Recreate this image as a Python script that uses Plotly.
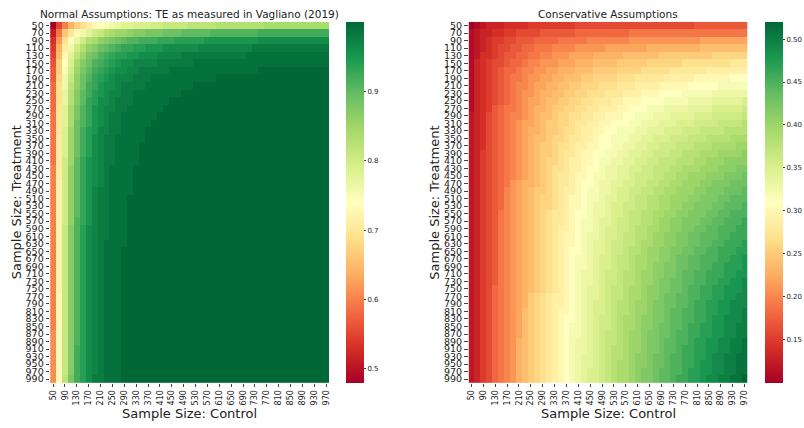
import plotly.graph_objects as go

# Sample sizes on each axis
control_sizes = [50, 70, 90, 110, 130, 150, 170, 190, 210, 230, 250, 270, 290, 310, 330, 350,
                 370, 390, 410, 430, 450, 470, 490, 510, 530, 550, 570, 590, 610, 630, 650, 670,
                 690, 710, 730, 750, 770, 790, 810, 830, 850, 870, 890, 910, 930, 950, 970]
treatment_sizes = [50, 70, 90, 110, 130, 150, 170, 190, 210, 230, 250, 270, 290, 310, 330, 350,
                   370, 390, 410, 430, 450, 470, 490, 510, 530, 550, 570, 590, 610, 630, 650, 670,
                   690, 710, 730, 750, 770, 790, 810, 830, 850, 870, 890, 910, 930, 950, 970, 990]
control_tick_labels = ["50", "90", "130", "170", "210", "250", "290", "330", "370", "410", "450", "490",
                       "530", "570", "610", "650", "690", "730", "770", "810", "850", "890", "930", "970"]

# Statistical power in percent: one row per treatment size, one column per control size
normal_power_pct = [
    [48,55,60,64,67,69,71,73,74,75,76,77,78,78,79,79,79,80,80,81,81,81,81,82,82,82,82,82,83,83,83,83,83,83,83,83,84,84,84,84,84,84,84,84,84,84,84],
    [51,59,66,70,73,76,78,80,81,83,84,85,85,86,87,87,88,88,88,89,89,89,90,90,90,90,90,91,91,91,91,91,91,91,91,92,92,92,92,92,92,92,92,92,92,92,92],
    [53,62,69,74,77,80,83,84,86,87,88,89,90,91,91,92,92,92,93,93,93,94,94,94,94,94,95,95,95,95,95,95,95,95,95,96,96,96,96,96,96,96,96,96,96,96,96],
    [54,64,71,76,80,83,86,87,89,90,91,92,93,93,94,94,95,95,95,96,96,96,96,96,96,97,97,97,97,97,97,97,97,97,98,98,98,98,98,98,98,98,98,98,98,98,98],
    [55,65,73,78,82,85,88,89,91,92,93,94,94,95,95,96,96,96,97,97,97,97,98,98,98,98,98,98,98,98,98,98,98,99,99,99,99,99,99,99,99,99,99,99,99,99,99],
    [56,67,74,79,84,87,89,91,92,93,94,95,96,96,97,97,97,97,98,98,98,98,98,98,99,99,99,99,99,99,99,99,99,99,99,99,99,99,99,99,99,99,99,99,99,99,99],
    [57,67,75,80,85,88,90,92,93,94,95,96,96,97,97,98,98,98,98,98,99,99,99,99,99,99,99,99,99,99,99,99,99,99,99,100,100,100,100,100,100,100,100,100,100,100,100],
    [57,68,76,81,86,89,91,93,94,95,96,97,97,97,98,98,98,99,99,99,99,99,99,99,99,99,99,99,100,100,100,100,100,100,100,100,100,100,100,100,100,100,100,100,100,100,100],
    [58,69,76,82,86,89,92,93,95,96,96,97,98,98,98,98,99,99,99,99,99,99,99,99,100,100,100,100,100,100,100,100,100,100,100,100,100,100,100,100,100,100,100,100,100,100,100],
    [58,69,77,83,87,90,92,94,95,96,97,97,98,98,99,99,99,99,99,99,99,99,100,100,100,100,100,100,100,100,100,100,100,100,100,100,100,100,100,100,100,100,100,100,100,100,100],
    [58,69,77,83,87,90,93,94,96,96,97,98,98,98,99,99,99,99,99,99,100,100,100,100,100,100,100,100,100,100,100,100,100,100,100,100,100,100,100,100,100,100,100,100,100,100,100],
    [58,70,78,84,88,91,93,95,96,97,97,98,98,99,99,99,99,99,99,100,100,100,100,100,100,100,100,100,100,100,100,100,100,100,100,100,100,100,100,100,100,100,100,100,100,100,100],
    [59,70,78,84,88,91,93,95,96,97,98,98,99,99,99,99,99,99,100,100,100,100,100,100,100,100,100,100,100,100,100,100,100,100,100,100,100,100,100,100,100,100,100,100,100,100,100],
    [59,70,78,84,89,91,93,95,96,97,98,98,99,99,99,99,99,100,100,100,100,100,100,100,100,100,100,100,100,100,100,100,100,100,100,100,100,100,100,100,100,100,100,100,100,100,100],
    [59,70,79,85,89,92,94,95,97,97,98,98,99,99,99,99,100,100,100,100,100,100,100,100,100,100,100,100,100,100,100,100,100,100,100,100,100,100,100,100,100,100,100,100,100,100,100],
    [59,71,79,85,89,92,94,96,97,98,98,99,99,99,99,99,100,100,100,100,100,100,100,100,100,100,100,100,100,100,100,100,100,100,100,100,100,100,100,100,100,100,100,100,100,100,100],
    [59,71,79,85,89,92,94,96,97,98,98,99,99,99,99,100,100,100,100,100,100,100,100,100,100,100,100,100,100,100,100,100,100,100,100,100,100,100,100,100,100,100,100,100,100,100,100],
    [59,71,79,85,89,92,94,96,97,98,98,99,99,99,99,100,100,100,100,100,100,100,100,100,100,100,100,100,100,100,100,100,100,100,100,100,100,100,100,100,100,100,100,100,100,100,100],
    [59,71,80,85,90,93,95,96,97,98,98,99,99,99,99,100,100,100,100,100,100,100,100,100,100,100,100,100,100,100,100,100,100,100,100,100,100,100,100,100,100,100,100,100,100,100,100],
    [60,71,80,86,90,93,95,96,97,98,99,99,99,99,100,100,100,100,100,100,100,100,100,100,100,100,100,100,100,100,100,100,100,100,100,100,100,100,100,100,100,100,100,100,100,100,100],
    [60,71,80,86,90,93,95,96,97,98,99,99,99,99,100,100,100,100,100,100,100,100,100,100,100,100,100,100,100,100,100,100,100,100,100,100,100,100,100,100,100,100,100,100,100,100,100],
    [60,72,80,86,90,93,95,96,97,98,99,99,99,99,100,100,100,100,100,100,100,100,100,100,100,100,100,100,100,100,100,100,100,100,100,100,100,100,100,100,100,100,100,100,100,100,100],
    [60,72,80,86,90,93,95,97,98,98,99,99,99,99,100,100,100,100,100,100,100,100,100,100,100,100,100,100,100,100,100,100,100,100,100,100,100,100,100,100,100,100,100,100,100,100,100],
    [60,72,80,86,90,93,95,97,98,98,99,99,99,100,100,100,100,100,100,100,100,100,100,100,100,100,100,100,100,100,100,100,100,100,100,100,100,100,100,100,100,100,100,100,100,100,100],
    [60,72,80,86,90,93,95,97,98,98,99,99,99,100,100,100,100,100,100,100,100,100,100,100,100,100,100,100,100,100,100,100,100,100,100,100,100,100,100,100,100,100,100,100,100,100,100],
    [60,72,80,86,90,93,95,97,98,98,99,99,99,100,100,100,100,100,100,100,100,100,100,100,100,100,100,100,100,100,100,100,100,100,100,100,100,100,100,100,100,100,100,100,100,100,100],
    [60,72,80,86,91,93,95,97,98,98,99,99,99,100,100,100,100,100,100,100,100,100,100,100,100,100,100,100,100,100,100,100,100,100,100,100,100,100,100,100,100,100,100,100,100,100,100],
    [60,72,81,87,91,94,96,97,98,98,99,99,99,100,100,100,100,100,100,100,100,100,100,100,100,100,100,100,100,100,100,100,100,100,100,100,100,100,100,100,100,100,100,100,100,100,100],
    [60,72,81,87,91,94,96,97,98,98,99,99,99,100,100,100,100,100,100,100,100,100,100,100,100,100,100,100,100,100,100,100,100,100,100,100,100,100,100,100,100,100,100,100,100,100,100],
    [60,72,81,87,91,94,96,97,98,99,99,99,99,100,100,100,100,100,100,100,100,100,100,100,100,100,100,100,100,100,100,100,100,100,100,100,100,100,100,100,100,100,100,100,100,100,100],
    [60,72,81,87,91,94,96,97,98,99,99,99,100,100,100,100,100,100,100,100,100,100,100,100,100,100,100,100,100,100,100,100,100,100,100,100,100,100,100,100,100,100,100,100,100,100,100],
    [60,72,81,87,91,94,96,97,98,99,99,99,100,100,100,100,100,100,100,100,100,100,100,100,100,100,100,100,100,100,100,100,100,100,100,100,100,100,100,100,100,100,100,100,100,100,100],
    [60,72,81,87,91,94,96,97,98,99,99,99,100,100,100,100,100,100,100,100,100,100,100,100,100,100,100,100,100,100,100,100,100,100,100,100,100,100,100,100,100,100,100,100,100,100,100],
    [60,72,81,87,91,94,96,97,98,99,99,99,100,100,100,100,100,100,100,100,100,100,100,100,100,100,100,100,100,100,100,100,100,100,100,100,100,100,100,100,100,100,100,100,100,100,100],
    [60,72,81,87,91,94,96,97,98,99,99,99,100,100,100,100,100,100,100,100,100,100,100,100,100,100,100,100,100,100,100,100,100,100,100,100,100,100,100,100,100,100,100,100,100,100,100],
    [60,72,81,87,91,94,96,97,98,99,99,99,100,100,100,100,100,100,100,100,100,100,100,100,100,100,100,100,100,100,100,100,100,100,100,100,100,100,100,100,100,100,100,100,100,100,100],
    [60,73,81,87,91,94,96,97,98,99,99,99,100,100,100,100,100,100,100,100,100,100,100,100,100,100,100,100,100,100,100,100,100,100,100,100,100,100,100,100,100,100,100,100,100,100,100],
    [60,73,81,87,91,94,96,97,98,99,99,99,100,100,100,100,100,100,100,100,100,100,100,100,100,100,100,100,100,100,100,100,100,100,100,100,100,100,100,100,100,100,100,100,100,100,100],
    [60,73,81,87,91,94,96,97,98,99,99,99,100,100,100,100,100,100,100,100,100,100,100,100,100,100,100,100,100,100,100,100,100,100,100,100,100,100,100,100,100,100,100,100,100,100,100],
    [60,73,81,87,91,94,96,97,98,99,99,99,100,100,100,100,100,100,100,100,100,100,100,100,100,100,100,100,100,100,100,100,100,100,100,100,100,100,100,100,100,100,100,100,100,100,100],
    [60,73,81,87,91,94,96,97,98,99,99,99,100,100,100,100,100,100,100,100,100,100,100,100,100,100,100,100,100,100,100,100,100,100,100,100,100,100,100,100,100,100,100,100,100,100,100],
    [61,73,81,87,91,94,96,97,98,99,99,99,100,100,100,100,100,100,100,100,100,100,100,100,100,100,100,100,100,100,100,100,100,100,100,100,100,100,100,100,100,100,100,100,100,100,100],
    [61,73,81,87,91,94,96,97,98,99,99,99,100,100,100,100,100,100,100,100,100,100,100,100,100,100,100,100,100,100,100,100,100,100,100,100,100,100,100,100,100,100,100,100,100,100,100],
    [61,73,81,87,92,94,96,97,98,99,99,99,100,100,100,100,100,100,100,100,100,100,100,100,100,100,100,100,100,100,100,100,100,100,100,100,100,100,100,100,100,100,100,100,100,100,100],
    [61,73,81,87,92,94,96,97,98,99,99,99,100,100,100,100,100,100,100,100,100,100,100,100,100,100,100,100,100,100,100,100,100,100,100,100,100,100,100,100,100,100,100,100,100,100,100],
    [61,73,81,87,92,94,96,97,98,99,99,99,100,100,100,100,100,100,100,100,100,100,100,100,100,100,100,100,100,100,100,100,100,100,100,100,100,100,100,100,100,100,100,100,100,100,100],
    [61,73,81,87,92,94,96,97,98,99,99,99,100,100,100,100,100,100,100,100,100,100,100,100,100,100,100,100,100,100,100,100,100,100,100,100,100,100,100,100,100,100,100,100,100,100,100],
    [61,73,82,88,92,94,96,98,98,99,99,99,100,100,100,100,100,100,100,100,100,100,100,100,100,100,100,100,100,100,100,100,100,100,100,100,100,100,100,100,100,100,100,100,100,100,100],
]

conservative_power_pct = [
    [10,11,12,13,13,13,14,14,14,14,15,15,15,15,15,15,15,15,16,16,16,16,16,16,16,16,16,16,16,16,16,16,16,16,16,16,16,16,17,17,17,17,17,17,17,17,17],
    [11,12,13,13,14,14,15,15,16,16,16,16,17,17,17,17,17,17,18,18,18,18,18,18,18,18,18,19,19,19,19,19,19,19,19,19,19,19,19,19,19,19,19,19,19,19,19],
    [11,12,13,14,15,15,16,16,17,17,17,18,18,18,18,19,19,19,19,19,20,20,20,20,20,20,20,21,21,21,21,21,21,21,21,21,21,21,21,22,22,22,22,22,22,22,22],
    [11,12,13,14,15,16,16,17,17,18,18,19,19,19,20,20,20,20,21,21,21,21,21,22,22,22,22,22,22,22,23,23,23,23,23,23,23,23,23,24,24,24,24,24,24,24,24],
    [11,12,14,14,15,16,17,17,18,18,19,19,20,20,21,21,21,22,22,22,22,23,23,23,23,23,24,24,24,24,24,24,25,25,25,25,25,25,25,25,25,26,26,26,26,26,26],
    [11,13,14,15,16,16,17,18,18,19,20,20,21,21,21,22,22,22,23,23,23,24,24,24,24,25,25,25,25,25,26,26,26,26,26,26,27,27,27,27,27,27,27,27,28,28,28],
    [11,13,14,15,16,17,18,18,19,20,20,21,21,22,22,23,23,23,24,24,24,25,25,25,25,26,26,26,26,27,27,27,27,27,28,28,28,28,28,28,29,29,29,29,29,29,29],
    [11,13,14,15,16,17,18,19,19,20,21,21,22,22,23,23,24,24,24,25,25,26,26,26,26,27,27,27,28,28,28,28,28,29,29,29,29,29,30,30,30,30,30,30,31,31,31],
    [11,13,14,15,16,17,18,19,20,20,21,22,22,23,23,24,24,25,25,26,26,26,27,27,27,28,28,28,29,29,29,29,30,30,30,30,30,31,31,31,31,31,32,32,32,32,32],
    [11,13,14,15,16,17,18,19,20,21,21,22,23,23,24,24,25,25,26,26,27,27,27,28,28,28,29,29,29,30,30,30,31,31,31,31,32,32,32,32,32,33,33,33,33,33,33],
    [11,13,14,15,16,17,18,19,20,21,22,22,23,24,24,25,25,26,26,27,27,28,28,28,29,29,30,30,30,31,31,31,31,32,32,32,32,33,33,33,33,34,34,34,34,34,35],
    [11,13,14,15,17,18,19,19,20,21,22,23,23,24,25,25,26,26,27,27,28,28,29,29,29,30,30,31,31,31,32,32,32,33,33,33,33,34,34,34,34,35,35,35,35,35,36],
    [12,13,14,16,17,18,19,20,20,21,22,23,24,24,25,26,26,27,27,28,28,29,29,30,30,30,31,31,32,32,32,33,33,33,34,34,34,34,35,35,35,36,36,36,36,36,37],
    [12,13,14,16,17,18,19,20,21,22,22,23,24,25,25,26,26,27,28,28,29,29,30,30,31,31,31,32,32,33,33,33,34,34,34,35,35,35,36,36,36,36,37,37,37,37,38],
    [12,13,14,16,17,18,19,20,21,22,23,23,24,25,25,26,27,27,28,29,29,30,30,31,31,32,32,32,33,33,34,34,34,35,35,35,36,36,36,37,37,37,37,38,38,38,38],
    [12,13,14,16,17,18,19,20,21,22,23,24,24,25,26,26,27,28,28,29,29,30,31,31,32,32,32,33,33,34,34,35,35,35,36,36,36,37,37,37,38,38,38,38,39,39,39],
    [12,13,14,16,17,18,19,20,21,22,23,24,25,25,26,27,27,28,29,29,30,30,31,31,32,32,33,33,34,34,35,35,36,36,36,37,37,37,38,38,38,39,39,39,39,40,40],
    [12,13,15,16,17,18,19,20,21,22,23,24,25,25,26,27,28,28,29,30,30,31,31,32,32,33,33,34,34,35,35,36,36,36,37,37,38,38,38,39,39,39,40,40,40,40,41],
    [12,13,15,16,17,18,19,20,21,22,23,24,25,26,26,27,28,29,29,30,30,31,32,32,33,33,34,34,35,35,36,36,37,37,37,38,38,38,39,39,40,40,40,41,41,41,41],
    [12,13,15,16,17,18,19,20,21,22,23,24,25,26,27,27,28,29,29,30,31,31,32,33,33,34,34,35,35,36,36,37,37,37,38,38,39,39,39,40,40,40,41,41,41,42,42],
    [12,13,15,16,17,18,19,20,21,22,23,24,25,26,27,28,28,29,30,30,31,32,32,33,33,34,34,35,36,36,36,37,37,38,38,39,39,40,40,40,41,41,41,42,42,42,43],
    [12,13,15,16,17,18,19,21,22,23,23,24,25,26,27,28,28,29,30,31,31,32,33,33,34,34,35,35,36,36,37,37,38,38,39,39,40,40,40,41,41,42,42,42,43,43,43],
    [12,13,15,16,17,18,20,21,22,23,24,25,25,26,27,28,29,29,30,31,32,32,33,33,34,35,35,36,36,37,37,38,38,39,39,40,40,40,41,41,42,42,42,43,43,43,44],
    [12,13,15,16,17,18,20,21,22,23,24,25,26,26,27,28,29,30,30,31,32,32,33,34,34,35,35,36,37,37,38,38,39,39,40,40,40,41,41,42,42,42,43,43,44,44,44],
    [12,13,15,16,17,18,20,21,22,23,24,25,26,26,27,28,29,30,30,31,32,33,33,34,35,35,36,36,37,37,38,38,39,39,40,40,41,41,42,42,42,43,43,44,44,44,45],
    [12,13,15,16,17,19,20,21,22,23,24,25,26,27,28,28,29,30,31,31,32,33,33,34,35,35,36,37,37,38,38,39,39,40,40,41,41,42,42,42,43,43,44,44,45,45,45],
    [12,13,15,16,17,19,20,21,22,23,24,25,26,27,28,28,29,30,31,32,32,33,34,34,35,36,36,37,37,38,38,39,40,40,41,41,42,42,42,43,43,44,44,45,45,45,46],
    [12,13,15,16,17,19,20,21,22,23,24,25,26,27,28,29,29,30,31,32,32,33,34,35,35,36,36,37,38,38,39,39,40,40,41,41,42,42,43,43,44,44,45,45,45,46,46],
    [12,13,15,16,17,19,20,21,22,23,24,25,26,27,28,29,30,30,31,32,33,33,34,35,35,36,37,37,38,38,39,40,40,41,41,42,42,43,43,44,44,44,45,45,46,46,46],
    [12,13,15,16,17,19,20,21,22,23,24,25,26,27,28,29,30,30,31,32,33,34,34,35,36,36,37,37,38,39,39,40,40,41,41,42,42,43,43,44,44,45,45,46,46,46,47],
    [12,13,15,16,17,19,20,21,22,23,24,25,26,27,28,29,30,31,31,32,33,34,34,35,36,36,37,38,38,39,40,40,41,41,42,42,43,43,44,44,45,45,46,46,46,47,47],
    [12,13,15,16,17,19,20,21,22,23,24,25,26,27,28,29,30,31,32,32,33,34,35,35,36,37,37,38,39,39,40,40,41,41,42,43,43,44,44,45,45,45,46,46,47,47,48],
    [12,13,15,16,17,19,20,21,22,23,24,25,26,27,28,29,30,31,32,32,33,34,35,35,36,37,37,38,39,39,40,41,41,42,42,43,43,44,44,45,45,46,46,47,47,47,48],
    [12,13,15,16,17,19,20,21,22,23,24,25,26,27,28,29,30,31,32,33,33,34,35,36,36,37,38,38,39,40,40,41,41,42,42,43,44,44,45,45,46,46,46,47,47,48,48],
    [12,13,15,16,17,19,20,21,22,23,24,25,26,27,28,29,30,31,32,33,33,34,35,36,36,37,38,38,39,40,40,41,42,42,43,43,44,44,45,45,46,46,47,47,48,48,49],
    [12,13,15,16,18,19,20,21,22,23,24,25,26,27,28,29,30,31,32,33,34,34,35,36,37,37,38,39,39,40,41,41,42,42,43,43,44,45,45,46,46,47,47,48,48,48,49],
    [12,13,15,16,18,19,20,21,22,23,25,26,27,28,29,29,30,31,32,33,34,34,35,36,37,37,38,39,39,40,41,41,42,43,43,44,44,45,45,46,46,47,47,48,48,49,49],
    [12,13,15,16,18,19,20,21,22,23,25,26,27,28,29,29,30,31,32,33,34,35,35,36,37,38,38,39,40,40,41,42,42,43,43,44,44,45,46,46,47,47,48,48,49,49,49],
    [12,13,15,16,18,19,20,21,22,24,25,26,27,28,29,30,30,31,32,33,34,35,35,36,37,38,38,39,40,40,41,42,42,43,44,44,45,45,46,46,47,47,48,48,49,49,50],
    [12,13,15,16,18,19,20,21,22,24,25,26,27,28,29,30,31,31,32,33,34,35,36,36,37,38,39,39,40,41,41,42,42,43,44,44,45,45,46,46,47,48,48,49,49,49,50],
    [12,13,15,16,18,19,20,21,22,24,25,26,27,28,29,30,31,32,32,33,34,35,36,36,37,38,39,39,40,41,41,42,43,43,44,44,45,46,46,47,47,48,48,49,49,50,50],
    [12,13,15,16,18,19,20,21,22,24,25,26,27,28,29,30,31,32,32,33,34,35,36,37,37,38,39,40,40,41,42,42,43,43,44,45,45,46,46,47,47,48,48,49,49,50,50],
    [12,13,15,16,18,19,20,21,23,24,25,26,27,28,29,30,31,32,33,33,34,35,36,37,37,38,39,40,40,41,42,42,43,44,44,45,45,46,47,47,48,48,49,49,50,50,51],
    [12,13,15,16,18,19,20,21,23,24,25,26,27,28,29,30,31,32,33,33,34,35,36,37,38,38,39,40,40,41,42,42,43,44,44,45,46,46,47,47,48,48,49,49,50,50,51],
    [12,13,15,16,18,19,20,21,23,24,25,26,27,28,29,30,31,32,33,34,34,35,36,37,38,38,39,40,41,41,42,43,43,44,45,45,46,46,47,47,48,49,49,50,50,51,51],
    [12,13,15,16,18,19,20,21,23,24,25,26,27,28,29,30,31,32,33,34,34,35,36,37,38,39,39,40,41,41,42,43,43,44,45,45,46,46,47,48,48,49,49,50,50,51,51],
    [12,13,15,16,18,19,20,21,23,24,25,26,27,28,29,30,31,32,33,34,35,35,36,37,38,39,39,40,41,42,42,43,44,44,45,45,46,47,47,48,48,49,49,50,50,51,51],
    [12,13,15,16,18,19,20,21,23,24,25,26,27,28,29,30,31,32,33,34,35,35,36,37,38,39,39,40,41,42,42,43,44,44,45,46,46,47,47,48,49,49,50,50,51,51,52],
]

normal_cbar_ticks = [0.5, 0.6, 0.7, 0.8, 0.9]
conservative_cbar_ticks = [0.15, 0.20, 0.25, 0.30, 0.35, 0.40, 0.45, 0.50]

panel_titles = ["Normal Assumptions: TE as measured in Vagliano (2019)", "Conservative Assumptions"]
x_title = "Sample Size: Control"
y_title = "Sample Size: Treatment"

# Sanity check on the matrix shapes
bad = []
for name, mat in (("normal", normal_power_pct), ("conservative", conservative_power_pct)):
    if len(mat) != len(treatment_sizes):
        bad.append(f"{name}: {len(mat)} rows")
    for i, row in enumerate(mat):
        if len(row) != len(control_sizes):
            bad.append(f"{name} row {i}: {len(row)} values")
if bad:
    raise ValueError("; ".join(bad))

x_cats = [str(v) for v in control_sizes]
y_cats = [str(v) for v in treatment_sizes]
normal_z = [[v / 100 for v in row] for row in normal_power_pct]
conservative_z = [[v / 100 for v in row] for row in conservative_power_pct]

RDYLGN = [
    [0.0, "#a50026"], [0.1, "#d73027"], [0.2, "#f46d43"], [0.3, "#fdae61"],
    [0.4, "#fee08b"], [0.5, "#ffffbf"], [0.6, "#d9ef8b"], [0.7, "#a6d96a"],
    [0.8, "#66bd63"], [0.9, "#1a9850"], [1.0, "#006837"],
]

W, H = 804, 428
FONT = "DejaVu Sans"
TXT = "#222222"

# pixel layout
top, bottom = 20.0, 384.5
left_x0, left_x1 = 49.3, 329.3
right_x0, right_x1 = 469.3, 749.3
cbar_left_x, cbar_right_x = 346.7, 766.7


def px_x(p):
    return p / W


def px_y(p):
    return 1 - p / H


y_dom = [px_y(bottom), px_y(top)]
cbar_len = (bottom - top) / H
cbar_y = px_y((top + bottom) / 2)


def cbar(xpix, ticks, fmt):
    return dict(
        x=px_x(xpix), xanchor="left", xpad=0, ypad=0,
        y=cbar_y, yanchor="middle", len=cbar_len, lenmode="fraction",
        thickness=18, outlinewidth=0,
        ticks="outside", ticklen=2.5, tickwidth=0.6, tickcolor="#444444",
        tickvals=ticks, ticktext=[fmt.format(t) for t in ticks],
        tickfont=dict(family=FONT, size=7, color=TXT),
    )


fig = go.Figure()
fig.add_trace(go.Heatmap(
    z=normal_z, x=x_cats, y=y_cats, colorscale=RDYLGN,
    xaxis="x", yaxis="y", colorbar=cbar(cbar_left_x, normal_cbar_ticks, "{:.1f}"),
))
fig.add_trace(go.Heatmap(
    z=conservative_z, x=x_cats, y=y_cats, colorscale=RDYLGN,
    xaxis="x2", yaxis="y2", colorbar=cbar(cbar_right_x, conservative_cbar_ticks, "{:.2f}"),
))


def xaxis(dom, anchor):
    return dict(
        domain=dom, anchor=anchor, type="category",
        tickmode="array", tickvals=control_tick_labels, ticktext=control_tick_labels,
        tickangle=-90, ticks="outside", ticklen=3, tickwidth=0.8, tickcolor="#444444",
        tickfont=dict(family=FONT, size=8, color=TXT),
        showgrid=False, zeroline=False, showline=False,
    )


def yaxis(anchor):
    return dict(
        domain=y_dom, anchor=anchor, type="category", autorange="reversed",
        tickmode="array", tickvals=y_cats, ticktext=y_cats,
        ticks="outside", ticklen=3.5, tickwidth=0.8, tickcolor="#444444",
        tickfont=dict(family=FONT, size=9.5, color=TXT),
        showgrid=False, zeroline=False, showline=False,
    )


annotations = []
for (x0, x1), title, ytx in (((left_x0, left_x1), panel_titles[0], 15),
                             ((right_x0, right_x1), panel_titles[1], 435)):
    cx = px_x((x0 + x1) / 2)
    annotations.append(dict(text=title, x=cx, y=px_y(12), xref="paper", yref="paper",
                            xanchor="center", yanchor="middle", showarrow=False,
                            font=dict(family=FONT, size=10.5, color=TXT)))
    annotations.append(dict(text=x_title, x=cx, y=px_y(415), xref="paper", yref="paper",
                            xanchor="center", yanchor="middle", showarrow=False,
                            font=dict(family=FONT, size=13, color=TXT)))
    annotations.append(dict(text=y_title, x=px_x(ytx), y=cbar_y, xref="paper", yref="paper",
                            xanchor="center", yanchor="middle", showarrow=False, textangle=-90,
                            font=dict(family=FONT, size=13, color=TXT)))

fig.update_layout(
    width=W, height=H, margin=dict(l=0, r=0, t=0, b=0),
    paper_bgcolor="white", plot_bgcolor="white",
    font=dict(family=FONT, color=TXT),
    xaxis=xaxis([px_x(left_x0), px_x(left_x1)], "y"),
    yaxis=yaxis("x"),
    xaxis2=xaxis([px_x(right_x0), px_x(right_x1)], "y2"),
    yaxis2=yaxis("x2"),
    annotations=annotations,
)

fig.write_html("out.html")
